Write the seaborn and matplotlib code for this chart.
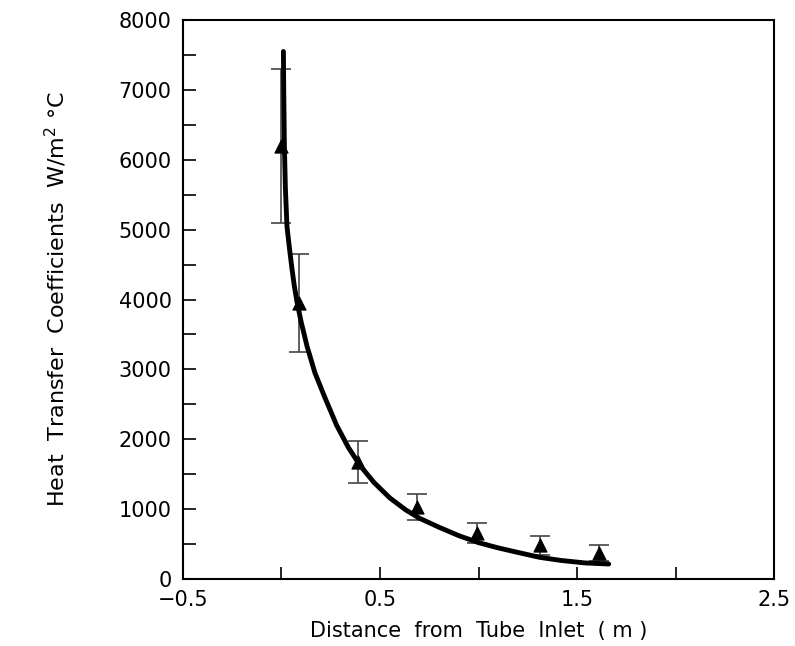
import numpy as np
import pandas as pd
import matplotlib
matplotlib.use("Agg")
import matplotlib.pyplot as plt
import seaborn as sns

# Measured data (triangles with error bars)
meas_x = [0.00, 0.09, 0.39, 0.69, 0.99, 1.31, 1.61]
meas_y = [6200, 3950, 1680, 1030, 660, 480, 370]
meas_err = [1100, 700, 300, 180, 140, 130, 110]

# Fitted curve
curve_x = [0.010, 0.012, 0.015, 0.020, 0.028, 0.040, 0.053, 0.065, 0.080,
           0.10, 0.13, 0.17, 0.22, 0.28, 0.34, 0.40, 0.47, 0.55, 0.63, 0.70,
           0.80, 0.90, 1.00, 1.10, 1.20, 1.31, 1.42, 1.54, 1.66]
curve_y = [7550, 6900, 6200, 5600, 5050, 4750, 4450, 4200, 3950,
           3680, 3330, 2950, 2600, 2200, 1880, 1620, 1380, 1160, 990, 870,
           740, 620, 520, 445, 380, 310, 265, 230, 215]

x_ticks = [-0.5, 0.0, 0.5, 1.0, 1.5, 2.0, 2.5]
x_ticklabels = ["\u22120.5", "", "0.5", "", "1.5", "", "2.5"]
y_ticks = list(range(0, 8001, 500))
y_ticklabels = [str(v) if v % 1000 == 0 else "" for v in y_ticks]

sns.set_theme(style="ticks")
plt.rcParams['font.family'] = ['DejaVu Sans']
plt.rcParams['text.color'] = 'black'
plt.rcParams['axes.labelcolor'] = 'black'
plt.rcParams['xtick.color'] = 'black'
plt.rcParams['ytick.color'] = 'black'
plt.rcParams['axes.edgecolor'] = 'black'

fig = plt.figure(figsize=(7.95, 6.46), dpi=100)
ax = fig.add_axes([0.230, 0.1037, 0.744, 0.8653])

meas = pd.DataFrame({"x": meas_x, "y": meas_y, "err": meas_err})
curve = pd.DataFrame({"x": curve_x, "y": curve_y})

ax.errorbar(meas["x"], meas["y"], yerr=meas["err"], fmt="none",
            ecolor="#444444", elinewidth=1.2, capsize=7, capthick=1.2, zorder=2)
sns.scatterplot(data=meas, x="x", y="y", marker="^", s=90, color="black",
                edgecolor="black", ax=ax, zorder=3)
sns.lineplot(data=curve, x="x", y="y", sort=False, estimator=None,
             color="black", linewidth=3.5, ax=ax, zorder=4)

ax.set_xlim(-0.5, 2.5)
ax.set_ylim(0, 8000)
ax.set_xticks(x_ticks)
ax.set_xticklabels(x_ticklabels)
ax.set_yticks(y_ticks)
ax.set_yticklabels(y_ticklabels)
ax.tick_params(direction="in", length=9, width=1.2, labelsize=15, pad=8,
               colors="black")
for s in ax.spines.values():
    s.set_linewidth(1.5)
    s.set_visible(True)
    s.set_color("black")

ax.set_xlabel("Distance  from  Tube  Inlet  ( m )", fontsize=15, labelpad=8)
ax.set_ylabel("Heat  Transfer  Coefficients  W/m$^{2}$ \u00b0C", fontsize=16,
              labelpad=36)

fig.savefig("out.png", dpi=100)
